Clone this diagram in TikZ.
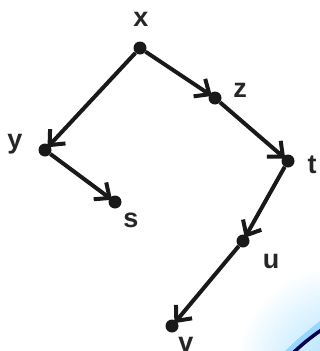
\documentclass[tikz,border=0pt]{standalone}
\usepackage{fontspec}
\setmainfont{Liberation Sans}
\usetikzlibrary{arrows.meta}
\begin{document}
\begin{tikzpicture}[x=1pt,y=-1pt,
  dot/.style={circle,fill=black!90,inner sep=0pt,minimum size=13pt},
  lbl/.style={font=\fontsize{27}{27}\selectfont\bfseries,text=black!85},
  >={Straight Barb[length=12pt,width=21pt,line width=4pt]}]
\useasboundingbox (0,0) rectangle (320,351);
% background corner
\begin{scope}
\clip (0,0) rectangle (320,351);
\shade[inner color=blue!35!cyan!35,outer color=white] (340,370) circle (105);
\draw[line width=7pt,blue!40!cyan!40] (285,356) .. controls (298,343) and (310,333) .. (326,321);
\draw[line width=3.5pt,blue!30!black] (290,356) .. controls (301,345) and (312,336) .. (326,327);
\end{scope}
\path
(140,48) node[dot] (x) {}
(141,19) node[lbl] (xp) {x}
(215,98) node[dot] (z) {}
(240,90) node[lbl] (zp) {z}
(45,150) node[dot] (y) {}
(15,144) node[lbl] (yp) {y}
(115,202) node[dot] (s) {}
(131,220) node[lbl] (sp) {s}
(288,161) node[dot] (t) {}
(312,165) node[lbl] (tp) {t}
(243,241) node[dot] (u) {}
(271,261) node[lbl] (up) {u}
(172,326) node[dot] (v) {}
(186,344) node[lbl] (vp) {v};
\begin{scope}[line width=4pt,black!90,shorten >=-3pt]
\draw[->] (x)--(z);
\draw[->] (x)--(y);
\draw[->] (z)--(t);
\draw[->] (y)--(s);
\draw[->] (t)--(u);
\draw[->] (u)--(v);
\end{scope}
\end{tikzpicture}
\end{document}
